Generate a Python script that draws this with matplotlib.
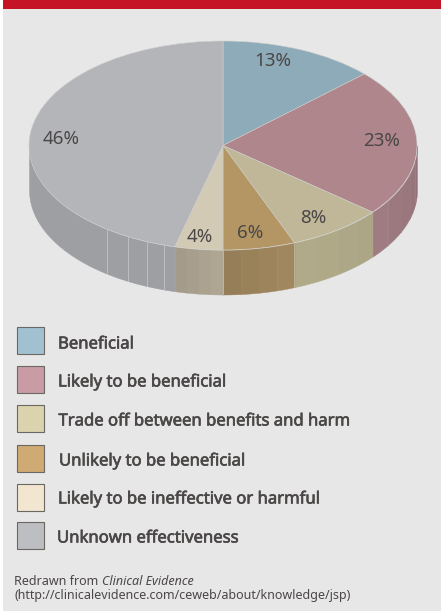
import numpy as np
import matplotlib
matplotlib.use("Agg")
import matplotlib.pyplot as plt
import matplotlib.patheffects as pe
from matplotlib.patches import Rectangle

# Share of treatments in each evidence category (percent)
categories = [
    "Beneficial",
    "Likely to be beneficial",
    "Trade off between benefits and harm",
    "Unlikely to be beneficial",
    "Likely to be ineffective or harmful",
    "Unknown effectiveness",
]
shares = [13, 23, 8, 6, 4, 46]

top_colors = ["#8eabb9", "#ae868c", "#bfb798", "#b39664", "#d3cab5", "#b4b5b9"]
wall_colors = ["#7f99a6", "#99777d", "#aea888", "#9b835b", "#a9a08f", "#9e9fa3"]
key_colors = ["#a1c1d0", "#c99ca5", "#dbd2ae", "#cfaa72", "#f2e6d0", "#bdbec1"]

W, H = 441, 611
TEXT = "#4b4747"
FONT = "Noto Sans"

fig = plt.figure(figsize=(W / 100, H / 100), dpi=100, facecolor="white")

# Full-figure pixel axes for the panel, the key and the credit line
page = fig.add_axes([0, 0, 1, 1], zorder=3)
page.set_xlim(0, W)
page.set_ylim(H, 0)
page.axis("off")
page.patch.set_alpha(0)

panel = fig.add_axes([0, 0, 1, 1], zorder=0)
panel.set_xlim(0, W)
panel.set_ylim(H, 0)
panel.axis("off")
panel.add_patch(Rectangle((3, 0), W - 3, H, fc="#e7e7e7", ec="none"))
panel.add_patch(Rectangle((3, 0), W - 3, 9, fc="#c41425", ec="none"))

# Pie axes: unit circle squashed into an ellipse by the axes shape
cx, cy, rx, ry, depth = 223, 145.5, 194, 104.5, 44.5
pie_ax = fig.add_axes([(cx - rx) / W, 1 - (cy + ry) / H, 2 * rx / W, 2 * ry / H], zorder=1)
wedges, _ = pie_ax.pie(
    shares,
    colors=top_colors,
    startangle=90,
    counterclock=False,
    radius=1,
    wedgeprops={"edgecolor": "#cfcfcc", "linewidth": 0.4},
)
pie_ax.set_aspect("auto")
pie_ax.set_xlim(-1, 1)
pie_ax.set_ylim(-1, 1)
pie_ax.axis("off")
for w in wedges:
    w.set_zorder(5)

# Extruded rim: only the front half of the ellipse is visible
drop = depth / ry
ends = np.cumsum(shares) * 3.6
starts = ends - np.array(shares) * 3.6
facet_counts = [1, 5, 4, 4, 4, 1]
shade_steps = [0.0, 0.018, 0.006, -0.02, -0.02, 0.0]


def tint(colour, amount):
    rgb = np.array(matplotlib.colors.to_rgb(colour))
    return tuple(np.clip(rgb * (1 + amount), 0, 1))


def seam(angle, colour):
    r = np.radians(angle)
    pie_ax.plot([np.sin(r)] * 2, [np.cos(r), np.cos(r) - drop], color=colour,
                lw=0.6, zorder=3, clip_on=False)


for a, b, colour, n, step in zip(starts, ends, wall_colors, facet_counts, shade_steps):
    lo, hi = max(a, 90), min(b, 270)
    if hi <= lo:
        continue
    edges = np.linspace(lo, hi, n + 1)
    for i in range(n):
        t = np.radians(np.linspace(edges[i], edges[i + 1], 40))
        x, y = np.sin(t), np.cos(t)
        shade = tint(colour, step * (i - (n - 1) / 2))
        pie_ax.fill_between(x, y, y - drop, facecolor=shade, edgecolor=shade, lw=0.3,
                            zorder=2, clip_on=False)

# Soft seams where slices meet on the rim
for angle, colour in zip(ends[2:4], ["#bdb79c", "#c2b9a6"]):
    seam(angle, colour)

# Pale facet seams on the grey rim
for angle in [197.7, 203.1, 209.3, 216.7]:
    seam(angle, "#c2c3c6")

# Percentage labels
label_xy = [(273, 61), (382, 141), (313, 218), (250, 233), (200, 237), (61, 139)]
for (lx, ly), value in zip(label_xy, shares):
    page.text(lx, ly, f"{value}%", ha="center", va="center", fontsize=13.5,
              color=TEXT, family=FONT)

# Key, with a thin stroke to give the labels a semibold weight
heavier = [pe.withStroke(linewidth=0.45, foreground=TEXT)]
box_tops = [327, 365.5, 405, 445, 484, 522]
text_xs = [58, 58, 58.5, 59, 58, 57]
text_ys = [344.5, 382.5, 421.5, 461.5, 499.5, 538.5]
for top, tx, ty, name, colour in zip(box_tops, text_xs, text_ys, categories, key_colors):
    page.add_patch(Rectangle((16.5, top), 27, 27, fc=colour, ec="#6b6763", lw=0.8))
    page.text(tx, ty, name, ha="left", va="center", fontsize=12, color=TEXT,
              family=FONT, path_effects=heavier)

# Source credit
lead = page.text(14.5, 581.5, "Redrawn from ", ha="left", va="center", fontsize=9,
                 color=TEXT, family=FONT)
page.annotate("Clinical Evidence", xy=(1, 0.5), xycoords=lead, va="center", ha="left",
              fontsize=9, color=TEXT, family=FONT, style="italic")
page.text(14.5, 595, "(http://clinicalevidence.com/ceweb/about/knowledge/jsp)", ha="left",
          va="center", fontsize=9, color=TEXT, family=FONT)

fig.savefig("out.png", dpi=100, facecolor="white")
